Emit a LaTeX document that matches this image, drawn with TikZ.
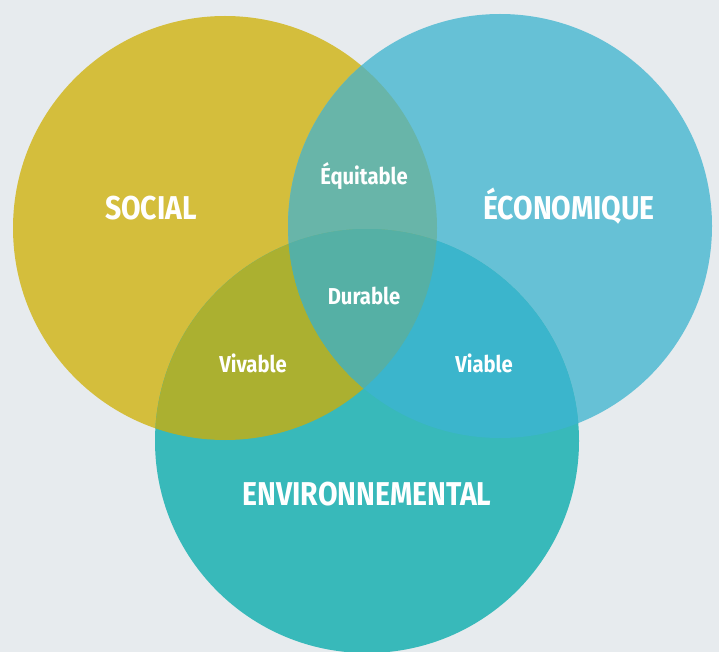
\documentclass[tikz,border=0pt]{standalone}
\usepackage{fontspec}
\setmainfont{Fira Sans}
\newfontfamily\labfont{Fira Sans}
\definecolor{bgc}{HTML}{E7EBEE}
\definecolor{ycol}{HTML}{D4BE3C}
\definecolor{bcol}{HTML}{66C1D6}
\definecolor{tcol}{HTML}{38B9BA}
\definecolor{ybcol}{HTML}{68B5A9}
\definecolor{ytcol}{HTML}{ABB030}
\definecolor{btcol}{HTML}{3BB5CC}
\definecolor{allcol}{HTML}{55B0A5}
\tikzset{
  bigtxt/.style={text=white, font=\labfont\bfseries\fontsize{33}{33}\selectfont, inner sep=0pt},
  smalltxt/.style={text=white, font=\labfont\fontsize{23}{23}\selectfont\bfseries, inner sep=0pt}
}
\newcommand{\cnd}[1]{\scalebox{0.86}[1]{#1}}
\newcommand{\cns}[1]{\scalebox{0.88}[1]{#1}}
\begin{document}
\begin{tikzpicture}[x=1pt,y=-1pt]
\fill[bgc] (0,0) rectangle (719,652);
\useasboundingbox (0,0) rectangle (719,652);
\coordinate (S) at (225,228);
\coordinate (E) at (500,226);
\coordinate (V) at (367,441);
\def\R{212}
\fill[ycol] (S) circle (\R);
\fill[bcol] (E) circle (\R);
\fill[tcol] (V) circle (\R);
\begin{scope}
  \clip (S) circle (\R);
  \fill[ybcol] (E) circle (\R);
  \fill[ytcol] (V) circle (\R);
\end{scope}
\begin{scope}
  \clip (E) circle (\R);
  \fill[btcol] (V) circle (\R);
\end{scope}
\begin{scope}
  \clip (S) circle (\R);
  \clip (E) circle (\R);
  \fill[allcol] (V) circle (\R);
\end{scope}
\node[bigtxt] (social) at (151,208) {\cnd{SOCIAL}};
\node[bigtxt] (eco) at (569,206) {\cnd{ÉCONOMIQUE}};
\node[bigtxt] (env) at (367,494) {\cnd{ENVIRONNEMENTAL}};
\node[smalltxt] (equ) at (364,176) {\cns{Équitable}};
\node[smalltxt] (dur) at (364,296) {\cns{Durable}};
\node[smalltxt] (viv) at (253,363) {\cns{Vivable}};
\node[smalltxt] (via) at (484,363) {\cns{Viable}};
\end{tikzpicture}
\end{document}
